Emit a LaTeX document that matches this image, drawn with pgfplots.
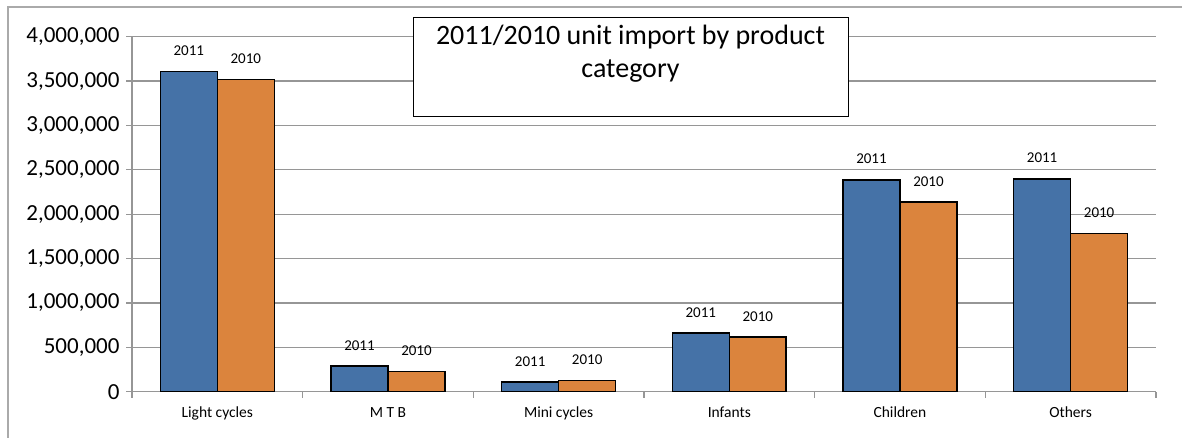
\documentclass[border=0pt]{standalone}
\usepackage{pgfplots}
\pgfplotsset{compat=1.18}
\usepackage{fontspec}
\setmainfont{Carlito}
\definecolor{barblue}{RGB}{69,114,167}
\definecolor{barorange}{RGB}{219,132,61}
\definecolor{gridgray}{RGB}{150,150,150}
\definecolor{framegray}{RGB}{170,170,170}
\begin{document}
\begin{tikzpicture}[x=1pt,y=1pt]
\useasboundingbox (0,0) rectangle (1182,438);
\draw[framegray, line width=1.5pt] (8,0) -- (8,431) -- (1182,431);
\begin{axis}[
  at={(132pt,46.3pt)}, anchor=south west,
  scale only axis, width=1024pt, height=355pt,
  ymin=0, ymax=4000000, xmin=-0.5, xmax=5.5,
  ybar=0pt, bar width=0.334,
  axis x line*=bottom, axis y line*=left,
  axis line style={gridgray, line width=1.2pt, -},
  ytick={0,500000,1000000,1500000,2000000,2500000,3000000,3500000,4000000},
  scaled y ticks=false,
  /pgf/number format/fixed,
  /pgf/number format/1000 sep={,},
  /pgf/number format/assume math mode=true,
  yticklabel style={font=\fontsize{23}{26}\selectfont, xshift=-3pt},
  xtick={-0.5,0.5,1.5,2.5,3.5,4.5,5.5},
  x tick label as interval,
  xticklabels={Light cycles, M T B, Mini cycles, Infants, Children, Others},
  xticklabel style={font=\fontsize{15.5}{18}\selectfont, yshift=-6pt},
  tick align=outside,
  major tick length=6pt,
  tick style={gridgray, line width=1.2pt},
  ymajorgrids,
  grid style={gridgray, line width=1.2pt},
  every node near coord/.append style={font=\fontsize{15}{18}\selectfont, inner sep=0pt, anchor=south, yshift=15pt, text=black},
]
\addplot[fill=barblue, draw=black, line width=1.6pt, nodes near coords={2011}]
  coordinates {(0,3610000) (1,289000) (2,109000) (3,662000) (4,2387000) (5,2398000)};
\addplot[fill=barorange, draw=black, line width=1.6pt, nodes near coords={2010}]
  coordinates {(0,3519000) (1,229000) (2,124000) (3,613000) (4,2135000) (5,1782000)};
\end{axis}
\draw[black, line width=1pt, fill=white] (413,321) rectangle (848,420);
\node[anchor=north, align=center, font=\fontsize{28}{33}\selectfont, inner sep=0pt] at (630.5,413.5) {2011/2010 unit import by product\\category};
\end{tikzpicture}
\end{document}
